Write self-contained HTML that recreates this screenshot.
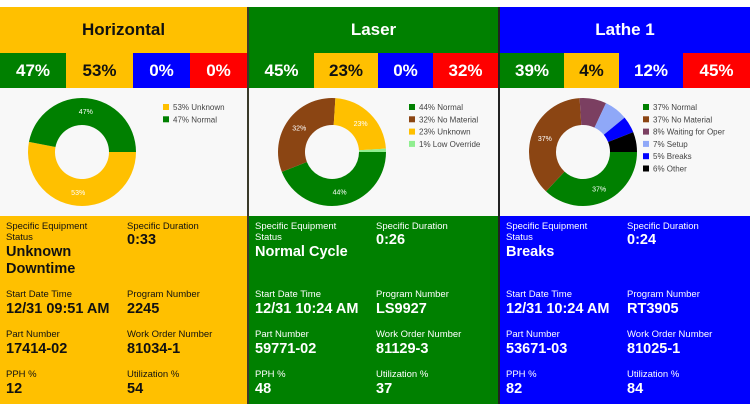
<!DOCTYPE html>
<html><head><meta charset="utf-8"><style>
body{margin:0;width:750px;height:413px;background:#fff;position:relative;overflow:hidden;font-family:"Liberation Sans",Arial,sans-serif}
.abs{position:absolute}
.hdr{top:7px;height:46px;font-size:17px;font-weight:bold;display:flex;align-items:center;justify-content:center}
.pc{top:53px;height:35px;font-size:17px;font-weight:bold;display:flex;align-items:center;justify-content:center;color:#fff}
.chart{top:88px;height:128px;background:#f8f8f8}
.info{top:216px;height:188px}
.lbl{font-size:9.5px;line-height:11px}
.val{font-size:14.5px;font-weight:bold;line-height:17px}
</style></head><body>
<svg id="svg" class="abs" style="left:0;top:0" width="750" height="413"></svg>
<script>
const machines=["Horizontal","Laser","Lathe 1"];
const headerColors=["#FFC000","#008000","#0000FF"];
const headerText=["#111","#fff","#fff"];
const pctValues=[[47,53,0,0],[45,23,0,32],[39,4,12,45]];
const pctColors=["#008000","#FFC000","#0000FF","#FF0000"];
const pctEdges=[[0,66,133,190,247],[249,314,378,433,498],[500,564,619,683,750]];
const sliceLabels=[["Unknown","Normal"],["Normal","No Material","Unknown","Low Override"],["Normal","No Material","Waiting for Oper","Setup","Breaks","Other"]];
const sliceValues=[[53,47],[44,32,23,1],[37,37,8,7,5,6]];
const sliceColors=[["#FFC000","#008000"],["#008000","#8B4513","#FFC000","#90EE90"],["#008000","#8B4513","#7B3F61","#8FA8F8","#0000FF","#000000"]];
const infoLabels=[["Specific Equipment Status","Specific Duration","Start Date Time","Program Number","Part Number","Work Order Number","PPH %","Utilization %"]];
const infoValues=[["Unknown Downtime","0:33","12/31 09:51 AM","2245","17414-02","81034-1","12","54"],
["Normal Cycle","0:26","12/31 10:24 AM","LS9927","59771-02","81129-3","48","37"],
["Breaks","0:24","12/31 10:24 AM","RT3905","53671-03","81025-1","82","84"]];
const panelLeft=[0,249,500], panelW=[247,249,250];
const NS="http://www.w3.org/2000/svg";
const svg=document.getElementById('svg');
function div(cls,style,txt){const d=document.createElement('div');d.className='abs '+cls;d.style.cssText=style;if(txt!==undefined)d.textContent=txt;document.body.appendChild(d);return d;}
const dv1=div('', 'left:247px;top:7px;width:2px;height:397px;background:#3a3a2a');


const dv2=div('', 'left:498px;top:7px;width:2px;height:397px;background:#222');


machines.forEach((m,i)=>{
  const L=panelLeft[i],W=panelW[i],slug=m.toLowerCase().replace(/\s+/g,'-');
  const h=div('hdr',`left:${L}px;width:${W}px;background:${headerColors[i]};color:${headerText[i]}`,m);
  
  
  pctValues[i].forEach((v,j)=>{
    const e=pctEdges[i];
    const c=div('pc',`left:${e[j]}px;width:${e[j+1]-e[j]}px;background:${pctColors[j]};color:${j==1?'#111':'#fff'}`,v+'%');
    
    
  });
  const ch=div('chart',`left:${L}px;width:${W}px`);
  
  
  const inf=div('info',`left:${L}px;width:${W}px;background:${headerColors[i]};color:${headerText[i]}`);
  
  
  const labs=infoLabels[0], vals=infoValues[i];
  const rowY=[5,73,113,153];
  for(let k=0;k<8;k++){
    const col=k%2,row=Math.floor(k/2);
    const x=6+col*121,y=rowY[row];
    const l=div('lbl',`left:${x}px;top:${y}px;width:${col==0?100:120}px`,labs[k]);
    
    
    inf.appendChild(l);
    const vy=(row==0&&col==0)?y+23:(row==0?y+11:y+12);
    const v=div('val',`left:${x}px;top:${vy}px;width:${col==0?118:120}px`,vals[k]);
    
    
    inf.appendChild(v);
  }
  const cx=L+82+(i==0?0:1),cy=152,R=54,r=27;
  const tot=sliceValues[i].reduce((a,b)=>a+b,0);
  let a0=0;
  sliceValues[i].forEach((v,j)=>{
    const a1=a0+v/tot*2*Math.PI;
    const p=document.createElementNS(NS,'path');
    const large=(a1-a0)>Math.PI?1:0;
    const P=(rad,a)=>[cx+rad*Math.cos(a),cy+rad*Math.sin(a)];
    const [x0,y0]=P(R,a0),[x1,y1]=P(R,a1),[x2,y2]=P(r,a1),[x3,y3]=P(r,a0);
    p.setAttribute('d',`M${x0},${y0}A${R},${R} 0 ${large} 1 ${x1},${y1}L${x2},${y2}A${r},${r} 0 ${large} 0 ${x3},${y3}Z`);
    p.setAttribute('fill',sliceColors[i][j]);
    
    
    svg.appendChild(p);
    if(v>=20){
      const am=(a0+a1)/2,[tx,ty]=P((R+r)/2,am);
      const t=document.createElementNS(NS,'text');
      t.setAttribute('x',tx);t.setAttribute('y',ty+2.5);
      t.setAttribute('text-anchor','middle');t.setAttribute('font-size','7');
      t.setAttribute('fill','#fff');t.setAttribute('font-family','Liberation Sans, sans-serif');
      t.textContent=v+'%';
      
      
      svg.appendChild(t);
    }
    const lx=L+163-(i==1?3:0)+(i==2?-20:0), ly=104+j*12.3;
    const sq=document.createElementNS(NS,'rect');
    sq.setAttribute('x',lx);sq.setAttribute('y',ly);sq.setAttribute('width',6);sq.setAttribute('height',6);
    sq.setAttribute('fill',sliceColors[i][j]);
    
    
    svg.appendChild(sq);
    const lt=document.createElementNS(NS,'text');
    lt.setAttribute('x',lx+10);lt.setAttribute('y',ly+6);
    lt.setAttribute('font-size','8');lt.setAttribute('fill','#444');
    lt.setAttribute('font-family','Liberation Sans, sans-serif');
    lt.textContent=v+'% '+sliceLabels[i][j];
    
    
    svg.appendChild(lt);
    a0=a1;
  });
});
document.body.appendChild(svg);
svg.style.zIndex=5;
</script>
</body></html>
